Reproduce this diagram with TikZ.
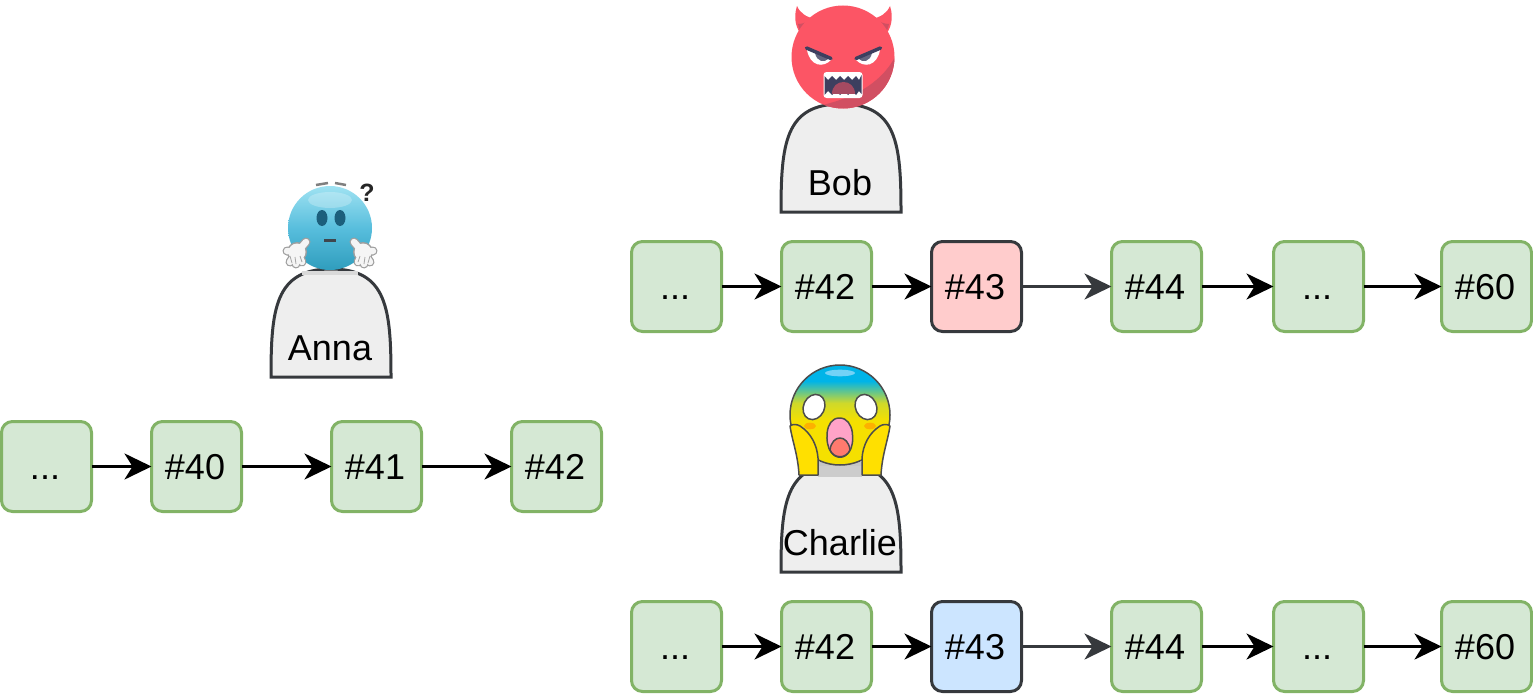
\documentclass[tikz,border=0pt]{standalone}
\usepackage{fontspec}
\setmainfont{Liberation Sans}[Ligatures=NoCommon]
\usetikzlibrary{arrows.meta}
\definecolor{okfill}{HTML}{D5E8D4}
\definecolor{okline}{HTML}{82B366}
\definecolor{dk}{HTML}{36393D}
\definecolor{redfill}{HTML}{FFCCCC}
\definecolor{bluefill}{HTML}{CCE5FF}
\definecolor{headfill}{HTML}{EEEEEE}
\definecolor{devil}{HTML}{FC5565}
\definecolor{devild}{HTML}{D14F62}
\definecolor{navy}{HTML}{3D3F5F}
\definecolor{skyb}{HTML}{00B4E8}
\definecolor{midg}{HTML}{CFD92A}
\definecolor{yel}{HTML}{F5E000}
\definecolor{handy}{HTML}{FFE000}
\definecolor{balltop}{HTML}{9FE2F2}
\definecolor{ballmid}{HTML}{58BEDD}
\definecolor{ballbot}{HTML}{2F9DBD}
\definecolor{balleye}{HTML}{1C5F7C}
\definecolor{mouthp}{HTML}{FFA3C8}
\definecolor{mouths}{HTML}{FF7A6E}
\pgfdeclareverticalshading{scared}{100bp}{color(0bp)=(yel); color(47bp)=(yel); color(56bp)=(midg); color(67bp)=(skyb); color(100bp)=(skyb)}
\tikzset{
  blockbox/.style={draw=okline,fill=okfill,line width=3pt,rounded corners=11pt,minimum size=90pt,inner sep=0pt,outer sep=0pt,font=\fontsize{36}{40}\selectfont,text=black,text height=25pt,text depth=0pt,execute at begin node={\hspace*{-3pt}}},
  badbox/.style={blockbox,draw=dk,fill=redfill},
  altbox/.style={blockbox,draw=dk,fill=bluefill},
  link/.style={line width=3pt,draw=black,-{Stealth[length=27pt,width=26pt,inset=8pt,fill=black]}},
  linkdk/.style={line width=3pt,draw=dk,-{Stealth[length=27pt,width=26pt,inset=8pt,fill=dk]}},
  headshape/.style={draw=dk,fill=headfill,line width=3pt},
  namelabel/.style={inner sep=0pt,font=\fontsize{36}{40}\selectfont,text=black},
  finger/.style={line cap=round,line width=9pt,draw=gray!75},
  fingerin/.style={line cap=round,line width=6.5pt,draw=white!92!gray},
  faceline/.style={draw=black!70,line width=1.5pt,line join=round}
}
\newcommand{\headpath}[2]{% x-left, y-top
  \path[headshape] (#1,#2+108) .. controls (#1,#2+40) and (#1+4,#2) .. (#1+60,#2) .. controls (#1+116,#2) and (#1+120,#2+40) .. (#1+120,#2+108) -- cycle;
}
\newcommand{\annahand}{%
  \foreach \fx/\fy in {-10/-1,-7/10,-1/12,5/10}{\draw[finger] (0,0) -- (\fx,\fy);}
  \draw[finger] (2,-2) -- (9,-10);
  \fill[gray!75] (0,0) circle (10);
  \foreach \fx/\fy in {-10/-1,-7/10,-1/12,5/10}{\draw[fingerin] (0,0) -- (\fx,\fy);}
  \draw[fingerin] (2,-2) -- (9,-10);
  \fill[white!92!gray] (0,0) circle (8.5);
  \draw[gray!70,line width=.8pt] (-7,4) -- (-5,11) (-2,5) -- (-1,12) (3,4) -- (5,10);
}
\begin{document}
\begin{tikzpicture}[x=1pt,y=-1pt]
\useasboundingbox (0,0) rectangle (1533,693);
% people
\headpath{271}{269}
\headpath{781}{104}
\headpath{781}{464}
\fill[gray!30] (302,271) rectangle (358,275);
\fill[gray!40] (818,466) rectangle (862,477);
\node[namelabel] (annaname) at (330,348) {Anna};
\node[namelabel] (bobname) at (840,183) {Bob};
\node[namelabel] (charliename) at (840,543) {Charlie};
% Anna emoji
\shade[top color=balltop,bottom color=ballbot,middle color=ballmid] (330,228) circle (42);
\fill[white,opacity=.25] (330,200) ellipse (22 and 8);
\fill[balleye] (322,218) ellipse (5.5 and 8);
\fill[balleye] (340,218) ellipse (5.5 and 8);
\fill[cyan!20!black] (324,239) rectangle (336,241.5);
\draw[gray,line width=2.5pt] (316,185) -- (328,183);
\draw[gray,line width=2.5pt] (335,183) -- (346,185);
\node[inner sep=0pt,font=\bfseries\fontsize{25}{28}\selectfont,text=black!85] (annaq) at (367,193) {?};
\begin{scope}[shift={(297,252)}]\annahand\end{scope}
\begin{scope}[shift={(363,252)},xscale=-1]\annahand\end{scope}
% Bob emoji
\fill[devil] (797,6) .. controls (800,13) and (806,17) .. (815,19) -- (803,36) .. controls (796,30) and (793,18) .. (797,6) -- cycle;
\fill[devil] (890,6) .. controls (887,13) and (881,17) .. (872,19) -- (884,36) .. controls (891,30) and (894,18) .. (890,6) -- cycle;
\fill[devild] (798,24) .. controls (803,24) and (808,22) .. (813,18) -- (803,35) .. controls (800,32) and (799,28) .. (798,24) -- cycle;
\fill[devild] (889,24) .. controls (884,24) and (879,22) .. (874,18) -- (884,35) .. controls (887,32) and (888,28) .. (889,24) -- cycle;
\fill[devil] (843,57) circle (51.5);
\begin{scope}
\clip (843,57) circle (51.5);
\fill[devild] (895,57) .. controls (880,85) and (850,100) .. (813,107) -- (900,115) -- cycle;
\end{scope}
\fill[white] (807,50) -- (832,59) .. controls (823,69) and (810,66) .. (807,50) -- cycle;
\fill[white] (880,50) -- (855,59) .. controls (864,69) and (877,66) .. (880,50) -- cycle;
\fill[navy!80] (815,53) -- (829,58.5) .. controls (824,63) and (817,62) .. (815,53) -- cycle;
\fill[navy!80] (872,53) -- (858,58.5) .. controls (863,63) and (870,62) .. (872,53) -- cycle;
\draw[navy,line width=3.5pt,line cap=round] (806.5,48) -- (831,58.5);
\draw[navy,line width=3.5pt,line cap=round] (880.5,48) -- (856,58.5);
\fill[white,rounded corners=3pt] (823.5,72) rectangle (862.5,98);
\fill[navy] (824.5,76) -- (828,80) -- (832,76) -- (836,80) -- (840,76) -- (844,80) -- (848,76) -- (852,80) -- (856,76) -- (859,80) -- (861.5,75) -- (861.5,94) -- (859,91) -- (856,95) -- (852,91) -- (848,95) -- (844,91) -- (840,95) -- (836,91) -- (832,95) -- (828,91) -- (824.5,95) -- cycle;
\fill[devild!70!navy] (832,94) .. controls (832,78) and (855,78) .. (855,94) -- cycle;
% Charlie emoji
\fill[gray!45] (818,462) rectangle (862,466);
\shade[shading=scared,faceline] (840,415) circle (50);
\fill[cyan!55!white] (840,373) ellipse (15 and 3.3);
\fill[orange!70!yellow,opacity=.8] (810,426) ellipse (6 and 3.3);
\fill[orange!70!yellow,opacity=.8] (870,426) ellipse (6 and 3.3);
\draw[faceline,fill=white,rotate around={-25:(814,407)}] (814,407) ellipse (10.5 and 13);
\draw[faceline,fill=white,rotate around={25:(866,407)}] (866,407) ellipse (10.5 and 13);
\draw[faceline,fill=mouthp] (839.5,418) .. controls (824,418) and (825,445) .. (831,452) .. controls (836,459) and (844,459) .. (849,452) .. controls (855,445) and (855,418) .. (839.5,418) -- cycle;
\draw[faceline,fill=mouths] (830,450) .. controls (832,434) and (848,434) .. (850,450) .. controls (846,459) and (834,459) .. (830,450) -- cycle;
\draw[faceline,fill=handy] (790,426) .. controls (792,424) and (797,424) .. (800,426) .. controls (811,433) and (817,445) .. (818,458) -- (818,475) -- (799,475) .. controls (798,455) and (792,440) .. (790,426) -- cycle;
\draw[faceline,fill=handy] (890,426) .. controls (888,424) and (883,424) .. (880,426) .. controls (869,433) and (863,445) .. (862,458) -- (862,475) -- (881,475) .. controls (882,455) and (888,440) .. (890,426) -- cycle;
% left chain
\node[blockbox] (a0) at (46.5,466.5) {.{}.{}.};
\node[blockbox] (a1) at (196.5,466.5) {\#40};
\node[blockbox] (a2) at (376.5,466.5) {\#41};
\node[blockbox] (a3) at (556.5,466.5) {\#42};
\draw[link] (a0) -- (a1);
\draw[link] (a1) -- (a2);
\draw[link] (a2) -- (a3);
% Bob chain
\node[blockbox] (b0) at (676.5,286.5) {.{}.{}.};
\node[blockbox] (b1) at (826.5,286.5) {\#42};
\node[badbox] (b2) at (976.5,286.5) {\#43};
\node[blockbox] (b3) at (1156.5,286.5) {\#44};
\node[blockbox] (b4) at (1318.5,286.5) {.{}.{}.};
\node[blockbox] (b5) at (1486.5,286.5) {\#60};
\draw[link] (b0) -- (b1);
\draw[link] (b1) -- (b2);
\draw[linkdk] (b2) -- (b3);
\draw[link] (b3) -- (b4);
\draw[link] (b4) -- (b5);
% Charlie chain
\node[blockbox] (c0) at (676.5,646.5) {.{}.{}.};
\node[blockbox] (c1) at (826.5,646.5) {\#42};
\node[altbox] (c2) at (976.5,646.5) {\#43};
\node[blockbox] (c3) at (1156.5,646.5) {\#44};
\node[blockbox] (c4) at (1318.5,646.5) {.{}.{}.};
\node[blockbox] (c5) at (1486.5,646.5) {\#60};
\draw[link] (c0) -- (c1);
\draw[link] (c1) -- (c2);
\draw[linkdk] (c2) -- (c3);
\draw[link] (c3) -- (c4);
\draw[link] (c4) -- (c5);
\end{tikzpicture}
\end{document}
